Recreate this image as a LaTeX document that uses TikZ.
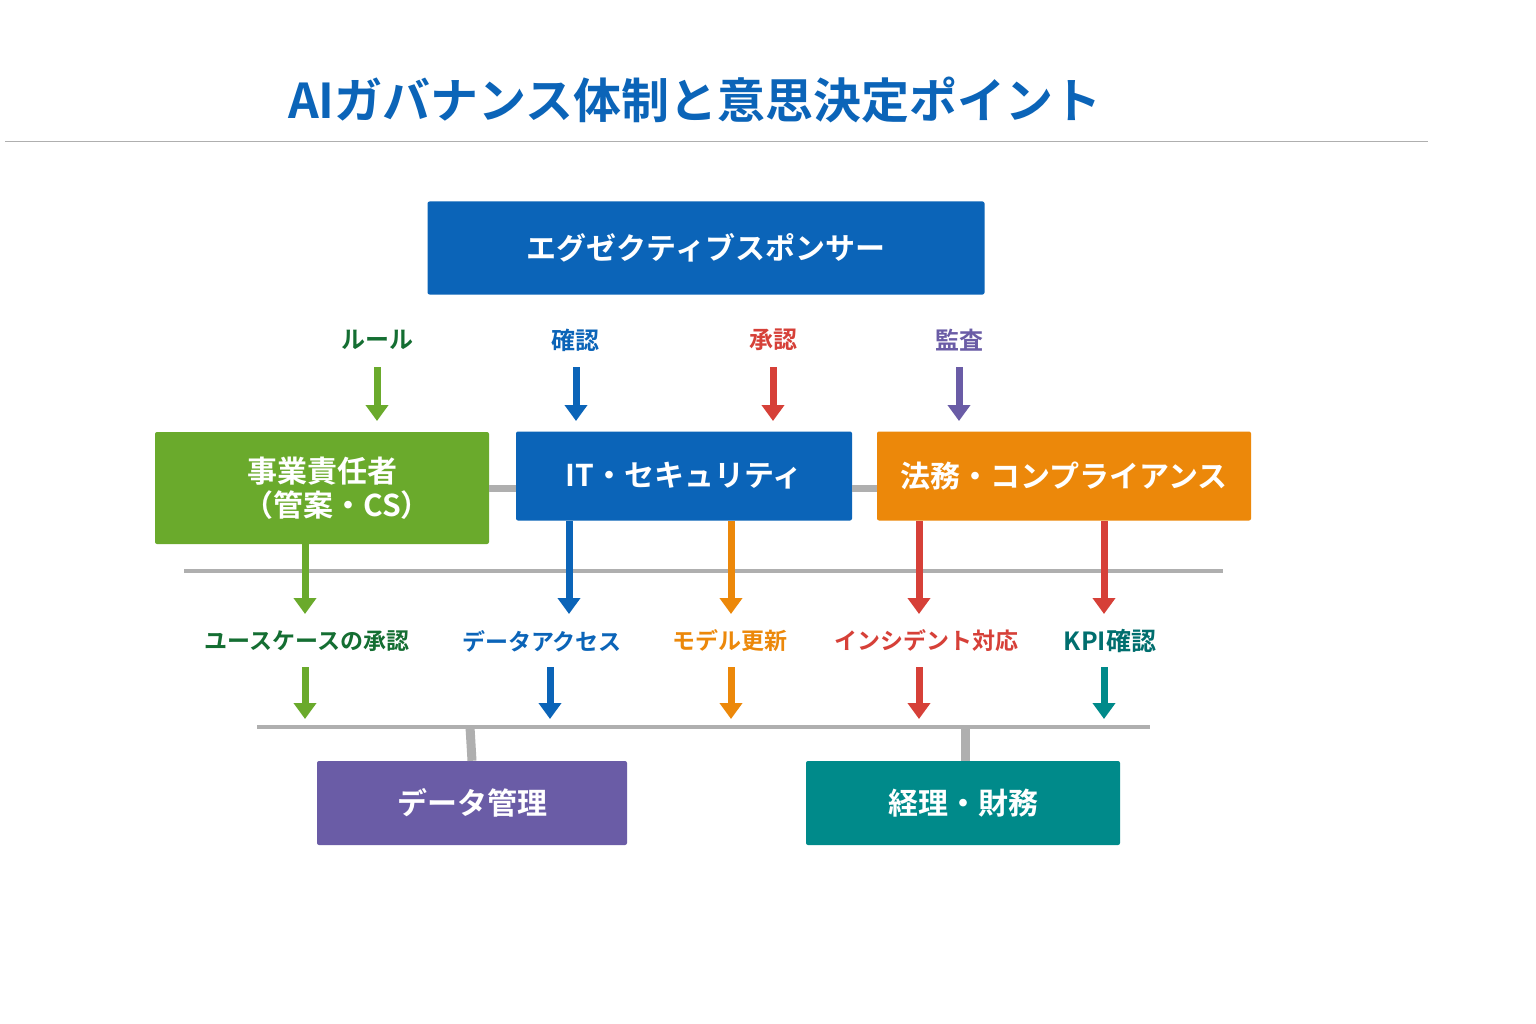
\documentclass[tikz,border=0pt]{standalone}
\usepackage{fontspec}
\setmainfont{Noto Sans CJK JP}[BoldFont={Noto Sans CJK JP Bold}]
\usetikzlibrary{arrows.meta}
\definecolor{cblue}{RGB}{11,100,184}
\definecolor{cgreen}{RGB}{106,170,44}
\definecolor{dgreen}{RGB}{20,110,50}
\definecolor{corange}{RGB}{236,136,10}
\definecolor{cred}{RGB}{214,64,56}
\definecolor{cpurple}{RGB}{106,92,166}
\definecolor{cteal}{RGB}{0,138,138}
\definecolor{cgray}{RGB}{175,175,175}
\begin{document}
\begin{tikzpicture}[x=1pt,y=-1pt,
  box/.style={draw=none,rounded corners=2pt,text=white,font=\bfseries\fontsize{30}{34}\selectfont,align=center,inner sep=0pt},
  lab/.style={font=\bfseries\fontsize{24}{28}\selectfont},
  arr/.style={line width=7pt,-{Triangle[width=22pt,length=16pt]}},
  gl/.style={cgray,line width=4pt}]
\fill[white] (0,0) rectangle (1536,1024);
\node[font=\bfseries\fontsize{48}{56}\selectfont,text=cblue] (title) at (695,100) {AIガバナンス体制と意思決定ポイント};
\draw[cgray,line width=1pt] (5,142) -- (1428,142);
% boxes
\node[box,fill=cblue,minimum width=557pt,minimum height=93pt] (exec) at (706,248) {エグゼクティブスポンサー};
\node[box,fill=cgreen,minimum width=334pt,minimum height=112pt] (biz) at (322,488) {事業責任者\\\hspace*{30pt}（管案・CS）};
\node[box,fill=cblue,minimum width=336pt,minimum height=89pt] (it) at (684,476) {IT・セキュリティ};
\node[box,fill=corange,minimum width=374pt,minimum height=89pt] (law) at (1064,476) {法務・コンプライアンス};
\node[box,fill=cpurple,minimum width=310pt,minimum height=84pt] (data) at (472,803) {データ管理};
\node[box,fill=cteal,minimum width=314pt,minimum height=84pt] (fin) at (963,803) {経理・財務};
% gray connectors
\draw[gl,line width=7pt] (biz.east|-0,488) -- (it.west|-0,488);
\draw[gl,line width=7pt] (it.east|-0,488) -- (law.west|-0,488);
\coordinate (h1a) at (184,571); \coordinate (h1b) at (1223,571);
\draw[gl] (h1a) -- (h1b);
\coordinate (h2a) at (257,727); \coordinate (h2b) at (1150,727);
\draw[gl] (h2a) -- (h2b);
\coordinate (s1) at (470,727); \coordinate (s2) at (965,727);
\draw[gl,line width=9pt] (s1) -- (data.north);
\draw[gl,line width=9pt] (s2) -- (fin.north-|s2);
% top labels & arrows
\node[lab,text=dgreen] (l1) at (377,340) {ルール};
\node[lab,text=cblue] (l2) at (575,340) {確認};
\node[lab,text=cred] (l3) at (773,340) {承認};
\node[lab,text=cpurple] (l4) at (959,340) {監査};
\foreach \x/\c/\n in {377/cgreen/a,576/cblue/b,773/cred/c,959/cpurple/d}{
  \coordinate (t\n) at (\x,367); \coordinate (e\n) at (\x,421);
  \draw[arr,\c] (t\n) -- (e\n);}
% middle arrows
\foreach \x/\c/\n/\y in {305/cgreen/a/544,569/cblue/b/521,731/corange/c/521,919/cred/d/521,1104/cred/e/521}{
  \coordinate (m\n) at (\x,\y); \coordinate (n\n) at (\x,614);
  \draw[arr,\c] (m\n) -- (n\n);}
% labels
\node[lab,text=dgreen,font=\bfseries\fontsize{23}{26}\selectfont] (u1) at (307,641) {ユースケースの承認};
\node[lab,text=cblue,font=\bfseries\fontsize{23}{26}\selectfont] (u2) at (542,641) {データアクセス};
\node[lab,text=corange,font=\bfseries\fontsize{23}{26}\selectfont] (u3) at (730,641) {モデル更新};
\node[lab,text=cred,font=\bfseries\fontsize{23}{26}\selectfont] (u4) at (926,641) {インシデント対応};
\node[lab,text=cteal!80!black,font=\bfseries\fontsize{25}{28}\selectfont] (u5) at (1110,641) {KPI確認};
\foreach \x/\c/\n in {305/cgreen/a,550/cblue/b,731/corange/c,919/cred/d,1104/cteal/e}{
  \coordinate (p\n) at (\x,667); \coordinate (q\n) at (\x,719);
  \draw[arr,\c] (p\n) -- (q\n);}
\end{tikzpicture}
\end{document}
